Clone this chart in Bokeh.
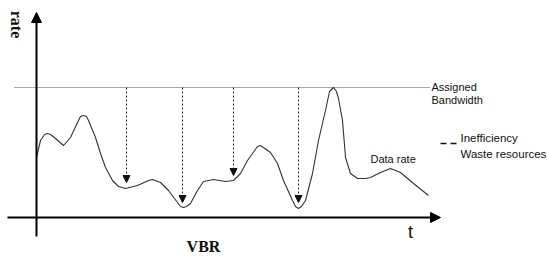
import math
from bokeh.plotting import figure
from bokeh.models import Range1d, Arrow, NormalHead, Label
from bokeh.embed import file_html
from bokeh.resources import INLINE

# Data rate curve (t, rate)
t_vals = [0, 4, 8, 11, 14, 19, 27, 34, 41, 44, 47, 50, 52, 59, 64, 69, 76, 82, 89, 101,
          112, 116, 124, 132, 141, 144, 147, 150, 154, 161, 167, 177, 189, 197, 204, 211, 221, 224, 234, 241,
          247, 256, 259, 262, 265, 269, 276, 282, 289, 293, 297, 300, 302, 306, 309, 314, 321, 329, 334, 344,
          354, 364, 377, 392]
rate_vals = [60, 77, 83, 84, 83, 79, 72, 80, 95, 101, 102, 101, 97, 80, 64, 50, 37, 31, 29, 32,
             37, 38, 35, 27, 15, 11, 10, 11, 14, 27, 36, 38, 36, 37, 44, 57, 71, 72, 65, 54,
             37, 17, 11, 9, 11, 17, 44, 77, 107, 126, 130, 126, 119, 97, 60, 44, 39, 39, 40, 45,
             49, 45, 34, 22]

bandwidth = 130
bw_t = [-22, 393]

# inefficiency arrows: time, rate at arrow tip
waste_t = [90, 146, 197, 262]
waste_tip = [35, 15, 42, 15]

p = figure(width=548, height=258, output_backend="svg", toolbar_location=None,
           x_range=Range1d(-36, 512), y_range=Range1d(-41, 217),
           min_border=0, outline_line_color=None)
p.axis.visible = False
p.grid.visible = False
p.background_fill_color = "white"
p.border_fill_color = "white"

# assigned bandwidth
p.line(bw_t, [bandwidth, bandwidth], line_color="#555555", line_width=1, line_dash="1 1")

# data rate
p.line(t_vals, rate_vals, line_color="#333333", line_width=1.1, line_join="round")

# waste arrows
for tt, tip in zip(waste_t, waste_tip):
    p.add_layout(Arrow(x_start=tt, y_start=bandwidth, x_end=tt, y_end=tip,
                       line_color="#222222", line_width=1, line_dash="2 2",
                       end=NormalHead(size=7, fill_color="#111111", line_color="#111111", line_width=1)))

# axes
p.add_layout(Arrow(x_start=0, y_start=-19, x_end=0, y_end=205, line_color="black", line_width=2,
                   end=NormalHead(size=10, fill_color="black", line_color="black")))
p.add_layout(Arrow(x_start=-29, y_start=0, x_end=404, y_end=0, line_color="black", line_width=2,
                   end=NormalHead(size=10, fill_color="black", line_color="black")))

# legend mark
p.line([404, 420], [74, 74], line_color="#111111", line_width=1.5, line_dash="6 4")

sans = "Liberation Sans"
def lab(x, y, text, size, font=sans, style="normal", align="left", angle=0.0, color="#111111"):
    p.add_layout(Label(x=x, y=y, text=text, text_font=font, text_font_size=size,
                       text_font_style=style, text_align=align, text_baseline="middle",
                       angle=angle, text_color=color))

lab(-20, 193, "rate", "16px", font="Liberation Serif", style="bold", align="center", angle=-math.pi / 2)
lab(395, 131, "Assigned", "11px")
lab(395, 118, "Bandwidth", "11px")
lab(424, 80, "Inefficiency", "11.5px")
lab(424, 64, "Waste resources", "11.5px")
lab(334, 59, "Data rate", "11px")
lab(167, -29, "VBR", "16px", font="Liberation Sans Narrow", style="bold", align="center")
lab(374, -14, "t", "18px", align="center")

open("out.html", "w").write(file_html(p, INLINE))
